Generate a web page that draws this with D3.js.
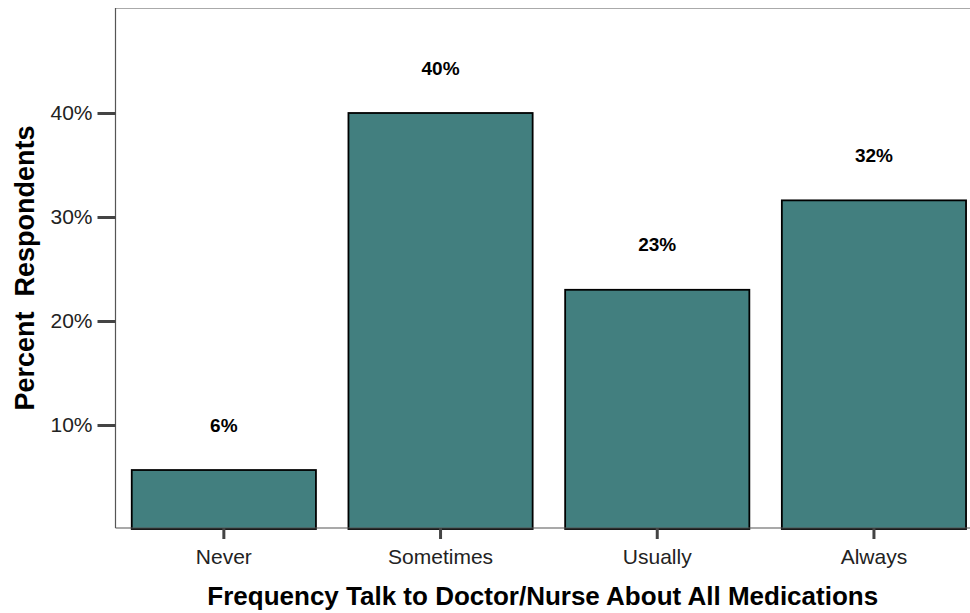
<!DOCTYPE html>
<html>
<head>
<meta charset="utf-8">
<script src="https://cdn.jsdelivr.net/npm/d3@7"></script>
<style>
  body { margin: 0; background: #fff; }
  text { font-family: "Liberation Sans", Arial, sans-serif; }
</style>
</head>
<body>
<div id="chart"></div>
<script>
// data
var categories = ["Never", "Sometimes", "Usually", "Always"];
var percents = [5.67, 40.0, 23.0, 31.6];
var valueLabels = ["6%", "40%", "23%", "32%"];
var yTicks = [10, 20, 30, 40];

var svgWidth = 970;
var svgHeight = 613;

var margin = { top: 8, right: 0, bottom: 85, left: 115.5 };
var height = svgHeight - margin.top - margin.bottom; // 520

var svg = d3.select("#chart")
  .append("svg")
  .attr("width", svgWidth)
  .attr("height", svgHeight);

// panel runs off the right edge in the original
var xScale = d3.scaleBand()
  .domain(categories)
  .range([margin.left, margin.left + 866.8])
  .paddingInner(0.15)
  .paddingOuter(0.075);

var yScale = d3.scaleLinear()
  .domain([0, 50])
  .range([margin.top + height + 1, margin.top + 1]);

var bottomY = margin.top + height;

// panel border
svg.append("line")
  .attr("x1", margin.left).attr("x2", svgWidth)
  .attr("y1", margin.top + 0.5).attr("y2", margin.top + 0.5)
  .attr("stroke", "#aaa").attr("stroke-width", 1);

svg.append("line")
  .attr("x1", margin.left).attr("x2", margin.left)
  .attr("y1", margin.top).attr("y2", bottomY)
  .attr("stroke", "#555").attr("stroke-width", 1.2);

// bars
svg.selectAll("rect.bar")
  .data(categories)
  .enter()
  .append("rect")
  .attr("class", "bar")
  .attr("x", d => xScale(d))
  .attr("width", xScale.bandwidth())
  .attr("y", (d, i) => yScale(percents[i]))
  .attr("height", (d, i) => yScale(0) - yScale(percents[i]))
  .attr("fill", "#427f7f")
  .attr("stroke", "#000")
  .attr("stroke-width", 1.8);

svg.append("line")
  .attr("x1", margin.left).attr("x2", svgWidth)
  .attr("y1", bottomY).attr("y2", bottomY)
  .attr("stroke", "#555").attr("stroke-width", 1.2);

// value labels
svg.selectAll("text.val")
  .data(categories)
  .enter()
  .append("text")
  .attr("class", "val")
  .attr("x", d => xScale(d) + xScale.bandwidth() / 2)
  .attr("y", (d, i) => yScale(percents[i] + 3.7))
  .attr("text-anchor", "middle")
  .attr("font-size", "19px")
  .attr("font-weight", "bold")
  .attr("fill", "#000")
  .text((d, i) => valueLabels[i]);

// y axis
var leftAxis = d3.axisLeft(yScale)
  .tickValues(yTicks)
  .tickFormat(d => d + "%")
  .tickSize(18)
  .tickPadding(5);

var yAxisG = svg.append("g")
  .attr("transform", `translate(${margin.left}, 0)`)
  .call(leftAxis);
yAxisG.select(".domain").remove();
yAxisG.selectAll(".tick line").attr("stroke", "#444").attr("stroke-width", 3);
yAxisG.selectAll(".tick text")
  .attr("font-size", "21px")
  .attr("font-family", "Liberation Sans, Arial, sans-serif")
  .attr("fill", "#222");

// x axis
var bottomAxis = d3.axisBottom(xScale)
  .tickSize(11)
  .tickPadding(10);

var xAxisG = svg.append("g")
  .attr("transform", `translate(0, ${bottomY})`)
  .call(bottomAxis);
xAxisG.select(".domain").remove();
xAxisG.selectAll(".tick line").attr("stroke", "#444").attr("stroke-width", 3);
xAxisG.selectAll(".tick text")
  .attr("font-size", "21px")
  .attr("font-family", "Liberation Sans, Arial, sans-serif")
  .attr("fill", "#222");

// axis titles
svg.append("text")
  .attr("transform", `translate(34, ${margin.top + height / 2}) rotate(-90)`)
  .attr("text-anchor", "middle")
  .attr("font-size", "27px")
  .attr("font-weight", "bold")
  .attr("xml:space", "preserve")
  .style("white-space", "pre")
  .text("Percent  Respondents");

svg.append("text")
  .attr("x", (margin.left + svgWidth) / 2)
  .attr("y", 605)
  .attr("text-anchor", "middle")
  .attr("font-size", "26px")
  .attr("font-weight", "bold")
  .text("Frequency Talk to Doctor/Nurse About All Medications");
</script>
</body>
</html>
